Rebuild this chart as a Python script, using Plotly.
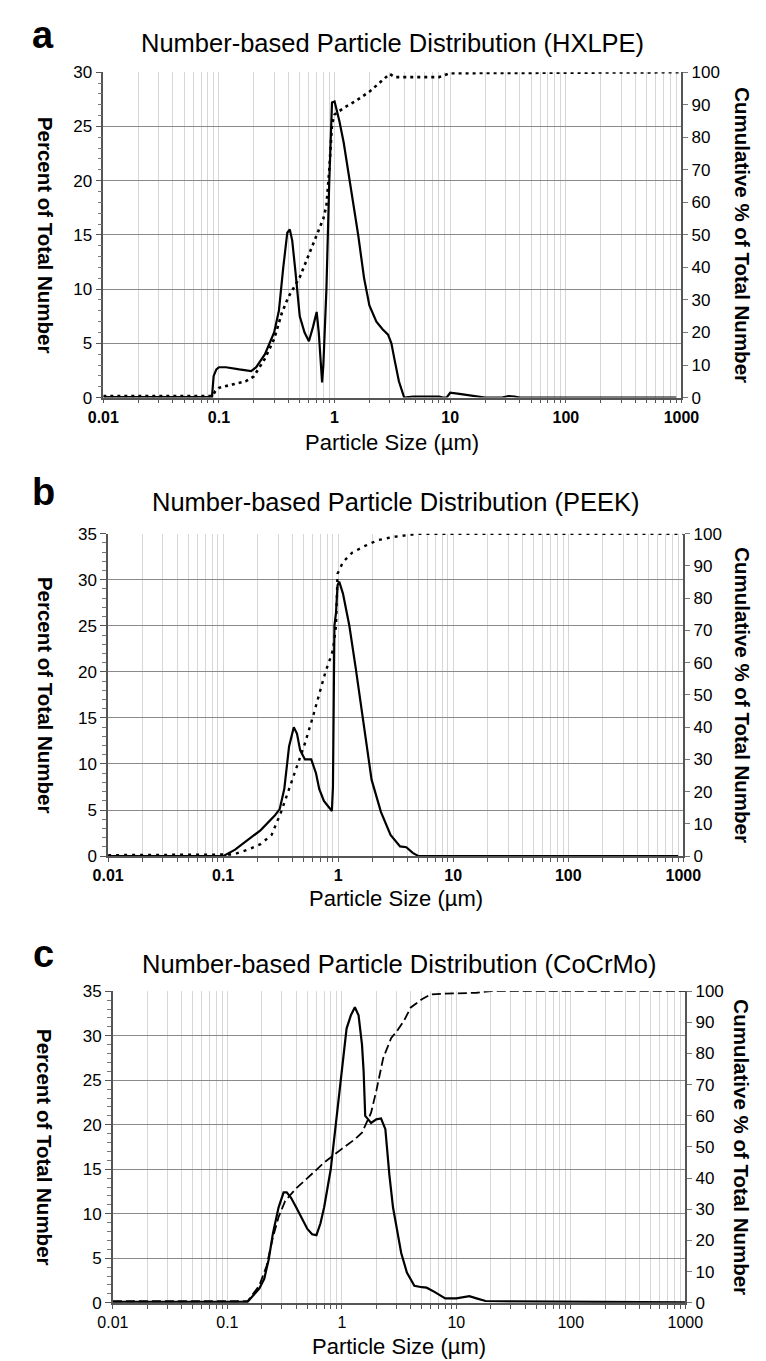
import plotly.graph_objects as go

# ---------------- data ----------------
x_tick_labels = ["0.01", "0.1", "1", "10", "100", "1000"]

titles = ["Number-based Particle Distribution (HXLPE)",
          "Number-based Particle Distribution (PEEK)",
          "Number-based Particle Distribution (CoCrMo)"]
panel_letters = ["a", "b", "c"]

# Panel a (HXLPE)
a_size = [0.01, 0.087, 0.09, 0.095, 0.1, 0.115, 0.15, 0.19, 0.21, 0.25, 0.3, 0.33, 0.36, 0.39,
          0.41, 0.43, 0.46, 0.5, 0.55, 0.6, 0.65, 0.7, 0.73, 0.76, 0.78, 0.8, 0.85, 0.9, 0.95,
          1.0, 1.05, 1.1, 1.2, 1.4, 1.6, 1.8, 2.0, 2.3, 2.6, 2.9, 3.1, 3.3, 3.6, 4.0, 4.8, 8.0,
          8.7, 9.3, 10.0, 12.0, 15.0, 18.0, 20.0, 28.0, 32.0, 36.0, 40.0, 900.0]
a_pct = [0.05, 0.05, 2.0, 2.6, 2.8, 2.8, 2.6, 2.45, 2.8, 4.0, 6.0, 8.0, 12.0, 15.2,
         15.5, 14.5, 11.5, 7.5, 6.0, 5.2, 6.5, 7.9, 6.0, 2.5, 1.4, 3.0, 10.0, 20.0, 27.2,
         27.3, 26.5, 25.5, 23.5, 19.0, 15.0, 11.0, 8.5, 7.0, 6.3, 5.8, 5.0, 3.5, 1.5, 0.0, 0.1, 0.1,
         0.0, 0.0, 0.45, 0.35, 0.2, 0.05, 0.0, 0.0, 0.15, 0.1, 0.0, 0.0]
a_cum_size = [0.01, 0.088, 0.093, 0.1, 0.13, 0.17, 0.2, 0.25, 0.3, 0.35, 0.4, 0.5, 0.6, 0.7,
              0.8, 0.85, 0.9, 0.95, 1.0, 1.2, 1.5, 2.0, 2.5, 3.0, 3.3, 8.0, 10.0, 1000.0]
a_cum = [0.5, 0.5, 2.0, 3.0, 4.0, 5.0, 6.5, 12.0, 18.0, 26.0, 31.0, 37.0, 44.0, 50.0,
         55.0, 59.0, 70.0, 84.0, 87.0, 89.0, 91.0, 94.0, 97.0, 99.5, 98.5, 98.5, 99.7, 100.0]

# Panel b (PEEK)
b_size = [0.01, 0.1, 0.127, 0.164, 0.211, 0.281, 0.31, 0.34, 0.374, 0.411, 0.438, 0.467,
          0.514, 0.583, 0.641, 0.684, 0.751, 0.881, 0.9, 0.927, 0.957, 0.987, 1.02, 1.1, 1.25,
          1.42, 1.66, 1.95, 2.35, 2.85, 3.45, 3.91, 4.44, 5.0, 900.0]
b_pct = [0.0, 0.0, 0.7, 1.8, 2.8, 4.4, 5.1, 7.3, 11.9, 14.0, 13.3, 11.5,
         10.5, 10.5, 9.0, 7.3, 6.0, 4.9, 7.5, 25.0, 26.4, 29.4, 29.8, 28.5, 25.0,
         20.4, 14.7, 8.3, 4.8, 2.3, 1.06, 0.96, 0.35, 0.0, 0.0]
b_cum_size = [0.01, 0.1, 0.123, 0.164, 0.211, 0.264, 0.319, 0.374, 0.438, 0.514, 0.60, 0.684,
              0.776, 0.853, 0.9, 0.957, 0.987, 1.1, 1.33, 1.71, 2.21, 3.03, 3.91, 5.0, 1000.0]
b_cum = [0.3, 0.3, 0.5, 2.0, 3.7, 6.6, 13.7, 20.8, 27.9, 35.0, 43.0, 50.0,
         57.2, 61.3, 64.0, 71.4, 87.6, 91.2, 94.2, 96.2, 98.0, 99.0, 99.5, 100.0, 100.0]

# Panel c (CoCrMo)
c_size = [0.01, 0.15, 0.19, 0.21, 0.23, 0.25, 0.28, 0.31, 0.33, 0.36, 0.4, 0.44, 0.46, 0.5,
          0.55, 0.6, 0.65, 0.7, 0.8, 0.9, 1.0, 1.1, 1.2, 1.3, 1.4, 1.5, 1.55, 1.6, 1.7, 1.8,
          2.0, 2.2, 2.4, 2.6, 2.8, 3.0, 3.3, 3.7, 4.3, 5.0, 5.5, 6.5, 8.0, 10.0, 13.0, 15.0,
          18.0, 30.0, 100.0, 1000.0]
c_pct = [0.1, 0.1, 1.6, 2.7, 4.9, 7.8, 10.7, 12.4, 12.4, 11.8, 10.7, 9.6, 9.1, 8.3,
         7.7, 7.6, 8.9, 10.7, 15.0, 20.6, 26.0, 30.8, 32.3, 33.2, 32.3, 29.0, 26.0, 21.0, 20.6, 20.2,
         20.6, 20.7, 19.5, 14.4, 10.7, 8.5, 5.6, 3.4, 1.9, 1.75, 1.7, 1.2, 0.5, 0.5, 0.75, 0.5,
         0.2, 0.15, 0.1, 0.05]
c_cum_size = [0.01, 0.15, 0.19, 0.22, 0.25, 0.28, 0.32, 0.4, 0.5, 0.7, 1.0, 1.3, 1.5, 1.8,
              2.0, 2.3, 2.7, 3.0, 3.5, 4.0, 5.0, 6.0, 8.0, 15.0, 20.0, 1000.0]
c_cum = [0.5, 0.5, 5.5, 11.8, 21.0, 27.5, 32.7, 36.8, 40.0, 45.0, 49.4, 52.5, 54.6, 61.0,
         68.0, 78.6, 85.0, 87.0, 90.6, 94.8, 97.4, 99.0, 99.2, 99.5, 100.0, 100.0]

left_max = [30, 35, 35]

# ---------------- layout helpers ----------------
W, H = 766, 1361
FONT = "Liberation Sans, Arial, Helvetica, sans-serif"

# plot boxes in px: (left, right, top, bottom)
boxes = [(83, 688, 56, 386), (88, 690, 524, 851), (93, 692, 988, 1304)]
title_y = [26, 492, 960]
letter_y = [18, 482, 950]
xtitle_off = [46, 43, 44]
cum_dash = ["3px,4px", "3px,5px", "9px,4px"]
cum_width = [2.6, 2.4, 1.8]
xtick_bold = [True, True, False]

tickvals = []
ticktext = []
for e in range(-2, 3):
    for m in range(1, 10):
        tickvals.append(m * 10.0 ** e)
        ticktext.append(x_tick_labels[e + 2] if m == 1 else "")
tickvals.append(1000.0)
ticktext.append(x_tick_labels[-1])

sizes = [a_size, b_size, c_size]
pcts = [a_pct, b_pct, c_pct]
csizes = [a_cum_size, b_cum_size, c_cum_size]
cums = [a_cum, b_cum, c_cum]

fig = go.Figure()
layout = dict(width=W, height=H, autosize=False, margin=dict(l=0, r=0, t=0, b=0),
              paper_bgcolor="white", plot_bgcolor="white", showlegend=False,
              font=dict(family=FONT, color="black"))
annotations = []

for i in range(3):
    L, R, T, B = boxes[i]
    xn = "x" if i == 0 else f"x{i+1}"
    yl = "y" if i == 0 else f"y{2*i+1}"
    yr = f"y{2*i+2}"
    xkey = "xaxis" if i == 0 else f"xaxis{i+1}"
    ylkey = "yaxis" if i == 0 else f"yaxis{2*i+1}"
    yrkey = f"yaxis{2*i+2}"
    ydom = [1 - B / H, 1 - T / H]

    layout[xkey] = dict(type="log", range=[-2, 3], domain=[L / W, R / W], anchor=yl,
                        tickmode="array", tickvals=tickvals, ticktext=ticktext,
                        ticks="outside", ticklen=4, tickwidth=1, tickcolor="#555",
                        showgrid=True, gridcolor="#d6d6d6", gridwidth=1,
                        showline=True, linecolor="#555", linewidth=1.5, zeroline=False,
                        tickfont=dict(size=16, family=FONT, color="black",
                                      weight="bold" if xtick_bold[i] else "normal"))
    layout[ylkey] = dict(range=[0, left_max[i]], domain=ydom, anchor=xn, dtick=5, tick0=0,
                         ticks="outside", ticklen=6, tickwidth=1, tickcolor="#555",
                         minor=dict(dtick=1, ticks="outside", ticklen=4, tickcolor="#777", showgrid=False),
                         showgrid=True, gridcolor="#8a8a8a", gridwidth=1.3,
                         showline=True, linecolor="#555", linewidth=1.5, zeroline=False,
                         tickfont=dict(size=17, family=FONT, color="black"))
    layout[yrkey] = dict(range=[0, 100], domain=ydom, anchor=xn, overlaying=yl, side="right",
                         dtick=10, tick0=0, ticks="outside", ticklen=5, tickwidth=1, tickcolor="#777",
                         showgrid=False, showline=True, linecolor="#555", linewidth=1.5, zeroline=False,
                         tickfont=dict(size=17, family=FONT, color="black"))

    fig.add_trace(go.Scatter(x=sizes[i], y=pcts[i], xaxis=xn, yaxis=yl, mode="lines",
                             line=dict(color="black", width=2.2)))
    fig.add_trace(go.Scatter(x=csizes[i], y=cums[i], xaxis=xn, yaxis=yr, mode="lines",
                             line=dict(color="black", width=cum_width[i], dash=cum_dash[i])))

    cx = (L + R) / 2
    cy = (T + B) / 2
    annotations += [
        dict(text=panel_letters[i], x=20 / W, y=1 - letter_y[i] / H, xref="paper", yref="paper",
             xanchor="center", yanchor="middle", showarrow=False,
             font=dict(size=38, family=FONT, color="black", weight="bold")),
        dict(text=titles[i], x=cx / W, y=1 - title_y[i] / H, xref="paper", yref="paper",
             xanchor="center", yanchor="middle", showarrow=False,
             font=dict(size=25.5, family=FONT, color="black")),
        dict(text="Percent of Total Number", x=22 / W, y=1 - cy / H, xref="paper", yref="paper",
             xanchor="center", yanchor="middle", showarrow=False, textangle=90,
             font=dict(size=20.5, family=FONT, color="black", weight="bold")),
        dict(text="Cumulative % of Total Number", x=751 / W, y=1 - cy / H, xref="paper", yref="paper",
             xanchor="center", yanchor="middle", showarrow=False, textangle=90,
             font=dict(size=20.5, family=FONT, color="black", weight="bold")),
        dict(text="Particle Size (µm)", x=cx / W, y=1 - (B + xtitle_off[i]) / H, xref="paper", yref="paper",
             xanchor="center", yanchor="middle", showarrow=False,
             font=dict(size=22, family=FONT, color="black")),
    ]

layout["annotations"] = annotations
fig.update_layout(**layout)
fig.write_html("out.html")
